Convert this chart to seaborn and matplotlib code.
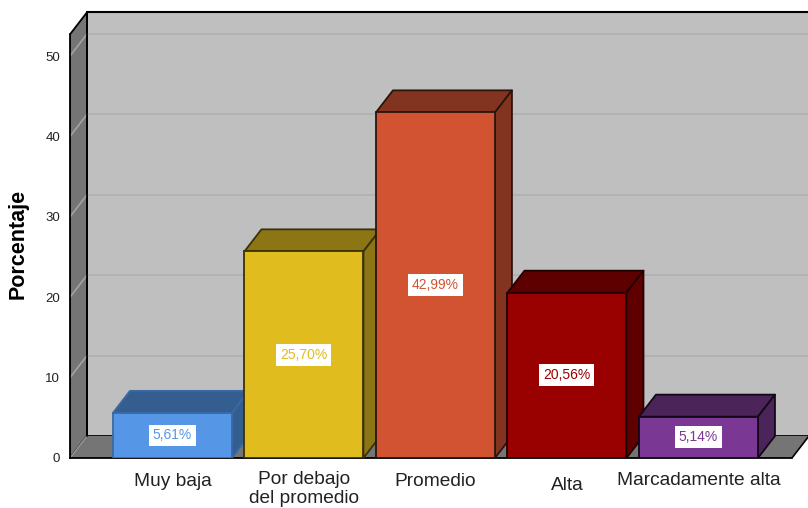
import matplotlib
matplotlib.use("Agg")
import matplotlib.pyplot as plt
import seaborn as sns
import pandas as pd
from matplotlib.patches import Polygon

categories = ["Muy baja", "Por debajo\ndel promedio", "Promedio", "Alta", "Marcadamente alta"]
values = [5.61, 25.70, 42.99, 20.56, 5.14]
value_labels = ["5,61%", "25,70%", "42,99%", "20,56%", "5,14%"]
front_colors = ["#5596E6", "#E1BC1E", "#D25332", "#990000", "#7B3794"]
side_colors = ["#345D90", "#8C7515", "#833420", "#5F0000", "#4B2459"]
edge_colors = ["#3A6AA5", "#3A3208", "#2A150C", "#200000", "#120818"]
yticks = [0, 10, 20, 30, 40, 50]
label_pads = [11, 9, 11, 14, 10]

sns.set_theme(style="white")
plt.rcParams["font.family"] = ["Liberation Sans", "DejaVu Sans"]

fig = plt.figure(figsize=(8.08, 5.08), dpi=100)
ax = fig.add_axes([70 / 808, 50 / 508, 738 / 808, 458 / 508])
ax.patch.set_alpha(0)

df = pd.DataFrame({"cat": categories, "val": values})
sns.barplot(data=df, x="cat", y="val", hue="cat", order=categories, hue_order=categories,
            palette=front_colors, legend=False, width=0.905, saturation=1, ax=ax)

XMIN, XMAX, FLOOR_R = -0.779, 4.833, 4.711
YTOP, YLIM = 52.7, 56.97
DX, DY = 0.1293, 2.74   # 3-D depth in data units

ax.set_xlim(XMIN, XMAX)
ax.set_ylim(0, YLIM)

WALL, SIDE, GRID, SIDEGRID = "#BFBFBF", "#757575", "#B2B2B2", "#A3A3A3"
line = dict(edgecolor="black", linewidth=1.3, joinstyle="round")

# back wall, left wall, floor
ax.add_patch(Polygon([(XMIN + DX, DY), (FLOOR_R + DX, DY), (FLOOR_R + DX, YTOP + DY), (XMIN + DX, YTOP + DY)],
                     facecolor=WALL, zorder=1, clip_on=True, **line))
ax.add_patch(Polygon([(XMIN, 0), (XMIN + DX, DY), (XMIN + DX, YTOP + DY), (XMIN, YTOP)],
                     facecolor=SIDE, zorder=1.2, **line))
ax.add_patch(Polygon([(XMIN, 0), (FLOOR_R, 0), (FLOOR_R + DX, DY), (XMIN + DX, DY)],
                     facecolor=SIDE, edgecolor="none", zorder=1.2))
ax.plot([XMIN, XMIN + DX], [0, DY], color="#9A9A9A", lw=1, zorder=1.3)
ax.plot([XMIN + DX, XMIN + DX], [DY, YTOP + DY], color="black", lw=1.3, zorder=1.6)
ax.plot([XMIN + DX, FLOOR_R + DX], [YTOP + DY] * 2, color="black", lw=1.5, zorder=1.6)
ax.plot([FLOOR_R, FLOOR_R + DX], [0, DY], color="black", lw=1.2, zorder=1.6)

for t in yticks[1:]:
    ax.plot([XMIN + DX, XMAX], [t + DY, t + DY], color=GRID, lw=1.4, zorder=1.4)
    ax.plot([XMIN, XMIN + DX], [t, t + DY], color=SIDEGRID, lw=1.2, zorder=1.4)

# bars: fronts from seaborn, top and side faces extruded from them
bars = [p for p in ax.patches if not isinstance(p, Polygon)]
for i, bar in enumerate(bars):
    x0, w, h = bar.get_x(), bar.get_width(), bar.get_height()
    x1 = x0 + w
    bar.set_edgecolor(edge_colors[i])
    bar.set_linewidth(1.3)
    bar.set_zorder(3 + i + 0.5)
    face = dict(facecolor=side_colors[i], edgecolor=edge_colors[i], linewidth=1.3,
                joinstyle="round", zorder=3 + i)
    ax.add_patch(Polygon([(x0, h), (x1, h), (x1 + DX, h + DY), (x0 + DX, h + DY)], **face))
    ax.add_patch(Polygon([(x1, 0), (x1 + DX, DY), (x1 + DX, h + DY), (x1, h)], **face))
    ax.text(i, h / 2, value_labels[i], ha="center", va="center", fontsize=10,
            color=front_colors[i], zorder=20,
            bbox=dict(boxstyle="square,pad=0.28", facecolor="white", edgecolor="none"))

ax.set_yticks(yticks)
ax.set_xticks(range(len(categories)))
ax.set_xticklabels(categories, fontsize=13.8, color="#222222", linespacing=1.2)
ax.tick_params(axis="x", length=0)
ax.tick_params(axis="y", length=0, pad=7, labelsize=9.5, labelcolor="#222222")
for tick, pad in zip(ax.xaxis.get_major_ticks(), label_pads):
    tick.set_pad(pad)

ax.set_xlabel("")
ax.set_ylabel("")
fig.text(18.5 / 808, 1 - 244 / 508, "Porcentaje", rotation=90, ha="center", va="center",
         fontsize=15.5, fontweight="bold", color="black")

for s in ("top", "right"):
    ax.spines[s].set_visible(False)
ax.spines["left"].set_bounds(0, YTOP)
ax.spines["bottom"].set_bounds(XMIN, FLOOR_R)
for s in ("left", "bottom"):
    ax.spines[s].set_color("black")
    ax.spines[s].set_linewidth(1.3)
    ax.spines[s].set_zorder(2)

fig.savefig("out.png", dpi=100)
